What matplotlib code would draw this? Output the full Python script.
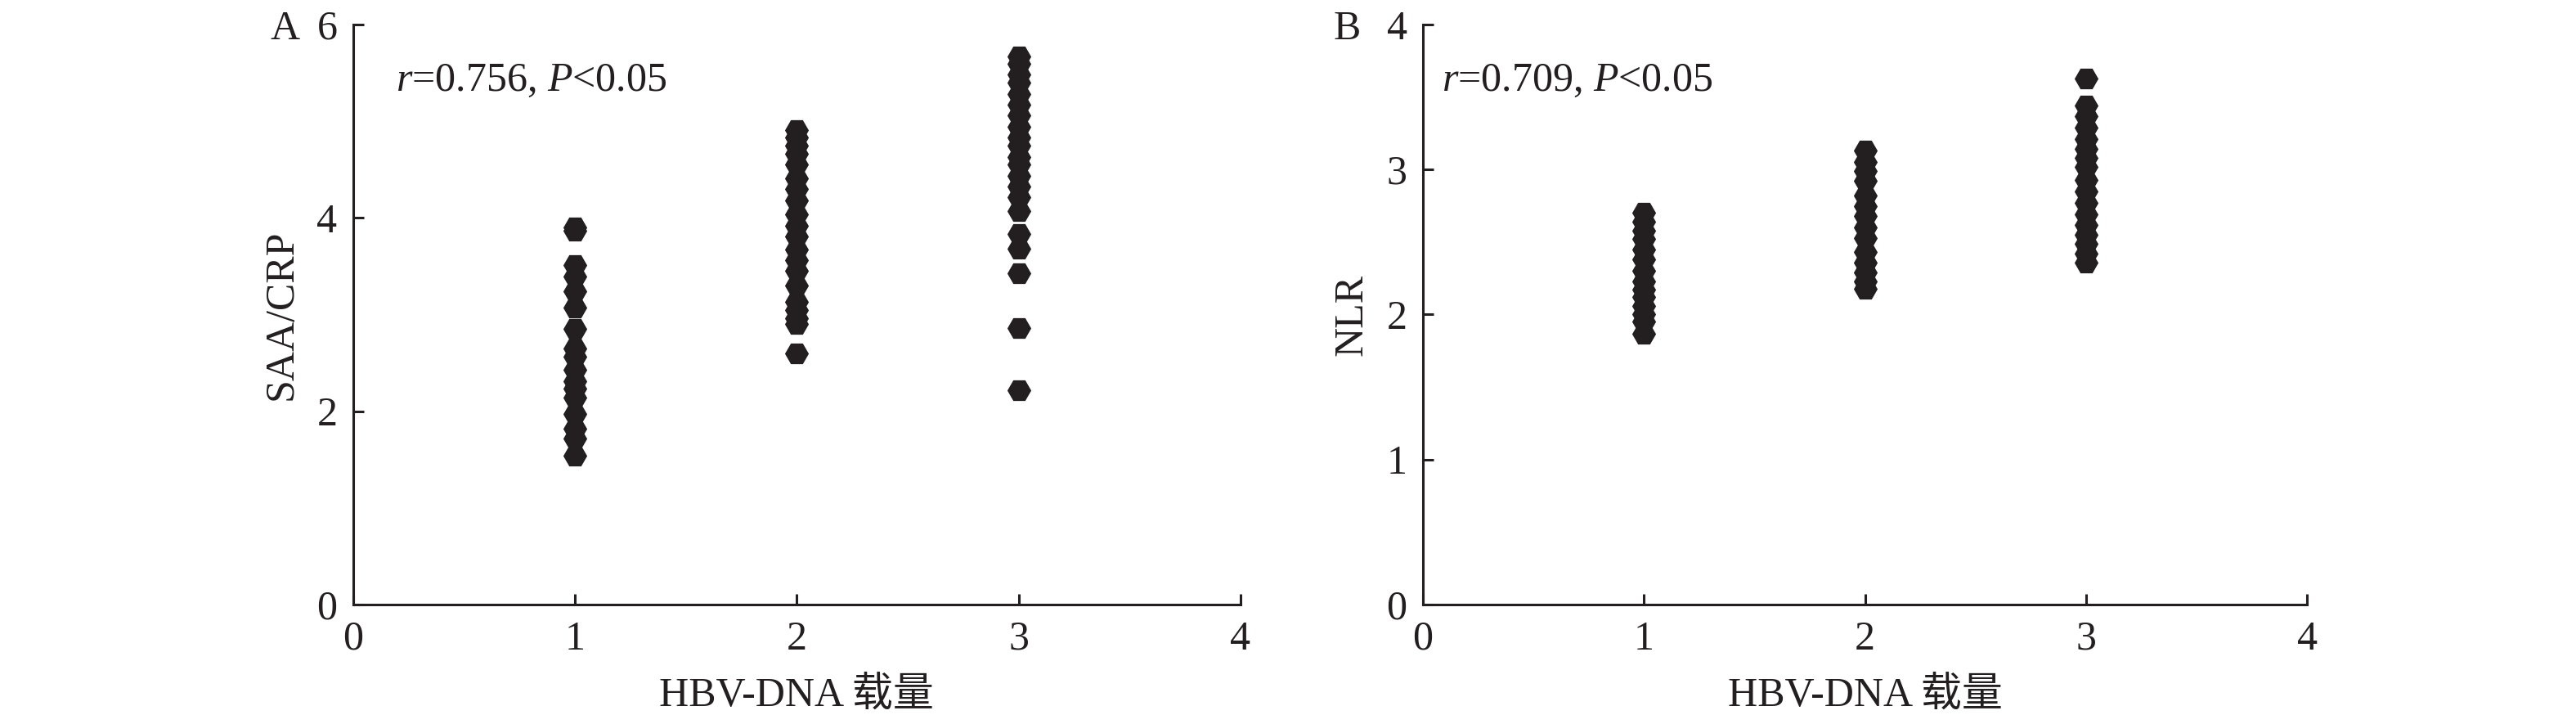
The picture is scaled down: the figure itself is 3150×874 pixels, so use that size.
import matplotlib
matplotlib.use('Agg')
import matplotlib.pyplot as plt
import numpy as np

# 폰트 설정
plt.rcParams['font.family'] = ['Liberation Serif', 'Noto Sans CJK SC']
plt.rcParams['mathtext.fontset'] = 'custom'
plt.rcParams['mathtext.rm'] = 'Liberation Serif'
plt.rcParams['mathtext.it'] = 'Liberation Serif:italic'

# HBV-DNA 载量 groups
groups = [1, 2, 3]

# SAA/CRP values per group
saa_g1 = [3.87, 3.90, 3.51, 3.39, 3.24, 3.07, 2.85, 2.65, 2.56, 2.43, 2.31, 2.23, 2.14, 1.97, 1.82, 1.72, 1.54]
saa_g2 = [4.91, 4.83, 4.75, 4.66, 4.55, 4.41, 4.30, 4.18, 4.04, 3.92, 3.81, 3.67, 3.56, 3.45,
          3.30, 3.13, 3.05, 2.96, 2.90, 2.60]
saa_g3 = [5.67, 5.59, 5.48, 5.40, 5.28, 5.17, 5.06, 4.94, 4.83, 4.75, 4.63, 4.55, 4.43, 4.32,
          4.21, 4.07, 3.83, 3.68, 3.43, 2.86, 2.22]

# NLR values per group
nlr_g1 = [2.70, 2.64, 2.58, 2.52, 2.45, 2.38, 2.30, 2.23, 2.17, 2.12, 2.06, 2.00, 1.95, 1.87]
nlr_g2 = [3.13, 3.05, 2.99, 2.92, 2.82, 2.75, 2.68, 2.60, 2.53, 2.43, 2.36, 2.29, 2.23, 2.18]
nlr_g3 = [3.63, 3.44, 3.37, 3.29, 3.21, 3.14, 3.08, 3.02, 2.93, 2.85, 2.77, 2.69, 2.62, 2.55,
          2.49, 2.42, 2.36]

panels = [
    ('A', [saa_g1, saa_g2, saa_g3], 'SAA/CRP', [0, 2, 4, 6], r'$r$=0.756, $P$<0.05'),
    ('B', [nlr_g1, nlr_g2, nlr_g3], 'NLR', [0, 1, 2, 3, 4], r'$r$=0.709, $P$<0.05'),
]
xlabel = 'HBV-DNA 载量'
xticks = [0, 1, 2, 3, 4]

fs = 36
dark = '#231f20'

fig = plt.figure(figsize=(31.5, 8.74), dpi=100)
positions = [[0.1371, 0.1545, 0.3444, 0.8112], [0.5524, 0.1545, 0.3432, 0.8112]]
text_x = [0.048, 0.021]
letter_x = [0.105, 0.5175]

for i, (letter, vals, ylab, yticks, ann) in enumerate(panels):
    ax = fig.add_axes(positions[i])
    for g, v in zip(groups, vals):
        ax.scatter([g] * len(v), v, marker='H', s=21 ** 2, color=dark,
                   linewidths=0, clip_on=False, zorder=3)
    ax.set_xlim(0, 4)
    ax.set_ylim(yticks[0], yticks[-1])
    ax.set_xticks(xticks)
    ax.set_yticks(yticks)
    ax.spines['top'].set_visible(False)
    ax.spines['right'].set_visible(False)
    for s in ['left', 'bottom']:
        ax.spines[s].set_linewidth(2.2)
        ax.spines[s].set_color(dark)
    ax.tick_params(direction='in', length=9.5, width=2.2, color=dark,
                   labelsize=fs, pad=14, labelcolor=dark)
    ax.set_xlabel(xlabel, fontsize=fs, labelpad=16, color=dark)
    ax.set_ylabel(ylab, fontsize=fs, labelpad=14, color=dark)
    ax.text(text_x[i], 0.886, ann, transform=ax.transAxes, fontsize=fs,
            va='baseline', ha='left', color=dark)
    fig.text(letter_x[i], 0.945, letter, fontsize=fs, va='baseline', color=dark)

plt.savefig('out.png', dpi=100)
